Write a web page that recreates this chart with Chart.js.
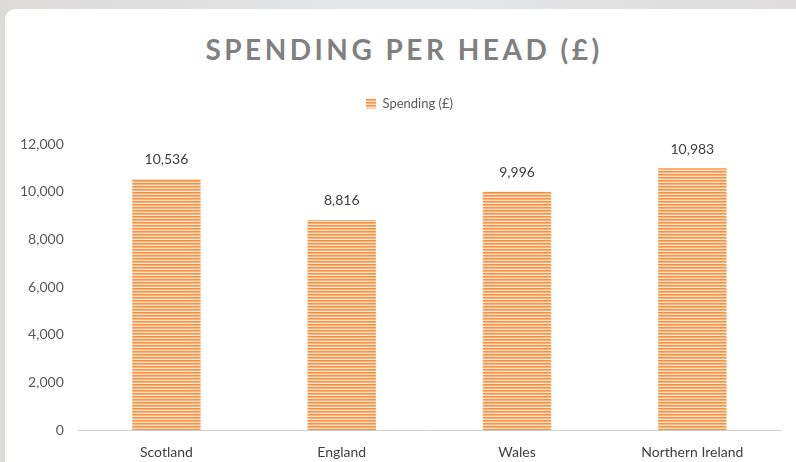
<!DOCTYPE html>
<html>
<head>
<meta charset="utf-8">
<script src="https://cdn.jsdelivr.net/npm/chart.js@4"></script>
<style>
  body { margin: 0; width: 796px; height: 462px; overflow: hidden; background: linear-gradient(90deg, #dcdad9, #e4e6e8 50%, #dedcdc); font-family: Lato, sans-serif; }
  .panel { position: absolute; left: 5px; top: 9px; width: 820px; height: 480px; background: #fff; border-radius: 10px; }
  #title { position: absolute; left: 0; top: 32px; width: 808px; text-align: center; font: bold 28px Lato, sans-serif; letter-spacing: 3.5px; color: #808080; }
  canvas { position: absolute; left: 0; top: 0; }
</style>
</head>
<body>
<div class="panel"></div>
<div id="title">SPENDING PER HEAD (£)</div>
<canvas id="grafica" width="796" height="462"></canvas>
<script>
const categorias = ['Scotland', 'England', 'Wales', 'Northern Ireland'];
const gasto = [10536, 8816, 9996, 10983];
const ticksY = [0, 2000, 4000, 6000, 8000, 10000, 12000];

function rayas() {
    const c = document.createElement('canvas');
    c.width = 4; c.height = 3;
    const g = c.getContext('2d');
    g.fillStyle = '#f7913f'; g.fillRect(0, 0, 4, 1);
    g.fillStyle = '#fab27c'; g.fillRect(0, 1, 4, 1);
    g.fillStyle = '#fde2cb'; g.fillRect(0, 2, 4, 1);
    return g.createPattern(c, 'repeat');
}

// extra room under the legend, and nudge it a bit to the right
const espacioLeyenda = {
    id: 'espacioLeyenda',
    beforeInit(chart) {
        const fit = chart.legend.fit;
        chart.legend.fit = function () {
            fit.call(this);
            this.height += 24;
        };
    },
    afterLayout(chart) {
        chart.legend.left += 17;
        chart.legend.right += 17;
    }
};

const etiquetas = {
    id: 'etiquetas',
    afterDatasetsDraw(chart) {
        const ctx = chart.ctx;
        ctx.save();
        ctx.font = '14px Lato, sans-serif';
        ctx.fillStyle = '#404040';
        ctx.textAlign = 'center';
        ctx.textBaseline = 'middle';
        chart.getDatasetMeta(0).data.forEach((bar, i) => {
            ctx.fillText(gasto[i].toLocaleString('en-US'), bar.x, bar.y - 19);
        });
        ctx.restore();
    }
};

const patron = rayas();
new Chart(document.getElementById('grafica').getContext('2d'), {
    type: 'bar',
    data: {
        labels: categorias,
        datasets: [{
            label: 'Spending (£)',
            data: gasto,
            backgroundColor: patron,
            borderWidth: 0,
            barPercentage: 0.78,
            categoryPercentage: 0.5
        }]
    },
    options: {
        responsive: false,
        devicePixelRatio: 1,
        animation: false,
        layout: { padding: { top: 85, left: 5, right: 16, bottom: -13 } },
        plugins: {
            legend: {
                display: true,
                position: 'top',
                labels: { boxWidth: 10, boxHeight: 10, padding: 12, color: '#595959', font: { family: 'Lato', size: 13 } }
            },
            title: { display: false },
            tooltip: { enabled: false }
        },
        scales: {
            x: {
                grid: { display: false, drawTicks: false },
                border: { display: true, color: '#d0d0d0', width: 1 },
                ticks: { color: '#404040', font: { family: 'Lato', size: 14 }, padding: 14 }
            },
            y: {
                min: 0,
                max: 12000,
                afterBuildTicks: axis => { axis.ticks = ticksY.map(v => ({ value: v })); },
                grid: { display: false, drawTicks: false },
                border: { display: false },
                ticks: { color: '#595959', font: { family: 'Lato', size: 14 }, padding: 15, callback: v => v.toLocaleString('en-US') }
            }
        }
    },
    plugins: [etiquetas, espacioLeyenda]
});
</script>
</body>
</html>
